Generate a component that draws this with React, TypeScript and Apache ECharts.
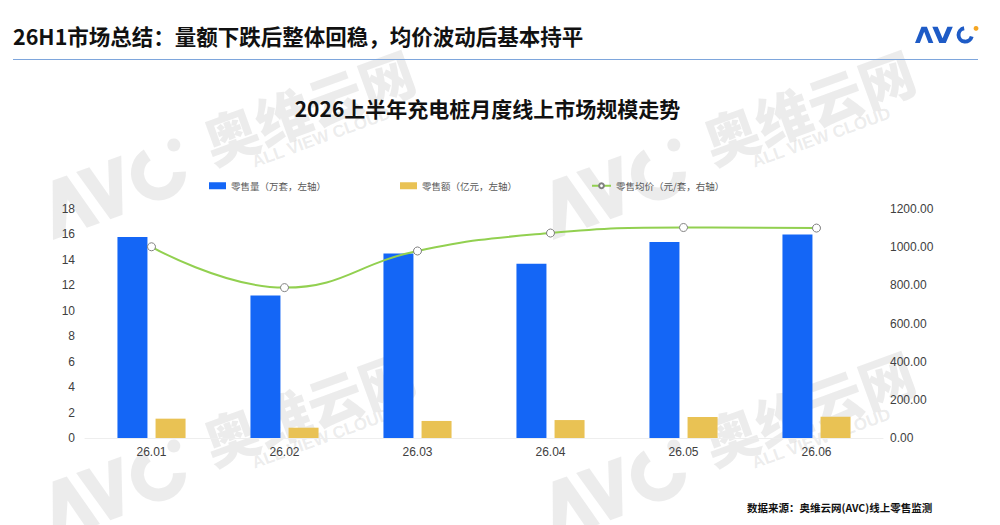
import React, { useEffect, useRef } from "react";
import * as echarts from "echarts";

const categories = ["26.01", "26.02", "26.03", "26.04", "26.05", "26.06"];
const volume = [15.8, 11.2, 14.5, 13.7, 15.4, 16.0];
const amount = [1.52, 0.81, 1.34, 1.41, 1.65, 1.67];
const avgPrice = [1002, 788, 980, 1074, 1103, 1100];

const seriesNames = ["零售量（万套，左轴）", "零售额（亿元，左轴）", "零售均价（元/套，右轴）"];
const headerText = "26H1市场总结：量额下跌后整体回稳，均价波动后基本持平";
const titleText = "2026上半年充电桩月度线上市场规模走势";
const sourceText = "数据来源：奥维云网(AVC)线上零售监测";

const leftAxis = { min: 0, max: 18, interval: 2 };
const rightAxis = { min: 0, max: 1200, interval: 200 };

const BLUE = "#1466F6";
const YELLOW = "#E9C254";
const GREEN = "#92D050";
const CJK = "'Noto Sans CJK SC', 'Noto Sans', sans-serif";
const LATIN = "'Liberation Sans', Arial, sans-serif";

function logoChildren(color: string, dotColor: string) {
  return [
    {
      type: "polygon",
      shape: { points: [[0, 0], [6, -15], [11, -15], [17, 0], [12.5, 0], [8.5, -10.5], [4.5, 0]] },
      style: { fill: color },
    },
    {
      type: "polygon",
      shape: { points: [[16, -15], [21, -15], [25.5, -4.5], [30, -15], [35, -15], [28.5, 0], [22.5, 0]] },
      style: { fill: color },
    },
    {
      type: "arc",
      shape: { cx: 46.5, cy: -7.5, r: 6.2, startAngle: 0.25, endAngle: 4.55, clockwise: true },
      style: { stroke: color, lineWidth: 3.6, fill: "none" },
    },
    {
      type: "circle",
      shape: { cx: 56.5, cy: -13.5, r: 2.2 },
      style: { fill: dotColor },
    },
  ];
}

function watermarkLogo(c: string) {
  return [
    {
      type: "polygon",
      shape: { points: [[0, 0], [20, -56], [35, -56], [50, 0], [36, 0], [27.5, -33], [13, 0]] },
      style: { fill: c },
    },
    {
      type: "polygon",
      shape: { points: [[45, -56], [59, -56], [68, -22], [79, -56], [93, -56], [74, 0], [61, 0]] },
      style: { fill: c },
    },
    {
      type: "arc",
      shape: { cx: 122, cy: -27, r: 21, startAngle: 0.3, endAngle: 4.5, clockwise: true },
      style: { stroke: c, lineWidth: 13, fill: "none" },
    },
    {
      type: "circle",
      shape: { cx: 146, cy: -48, r: 6.5 },
      style: { fill: c },
    },
  ];
}

function watermark(x: number, y: number) {
  const c = "rgba(175,175,175,0.24)";
  return {
    type: "group",
    x,
    y,
    rotation: (20 * Math.PI) / 180,
    silent: true,
    z: 100,
    children: [
      { type: "group", children: watermarkLogo(c) },
      {
        type: "text",
        x: 176,
        y: -12,
        style: {
          text: "奥维云网",
          fill: c,
          font: `900 55px ${CJK}`,
          verticalAlign: "bottom",
        },
      },
      {
        type: "text",
        x: 214,
        y: 4,
        style: {
          text: "ALL VIEW CLOUD",
          fill: c,
          font: `bold 17px ${LATIN}`,
          verticalAlign: "bottom",
        },
      },
    ],
  };
}

export default function App() {
  const ref = useRef<HTMLDivElement>(null);

  useEffect(() => {
    if (!ref.current) return;
    const chart = echarts.init(ref.current, null, { renderer: "svg" });

    const legendCommon = {
      top: 181,
      padding: 0,
      itemGap: 0,
      textStyle: { fontSize: 9.5, color: "#595959", fontFamily: CJK },
      selectedMode: false,
    };

    const option = {
      animation: false,
      backgroundColor: "#fff",
      legend: [
        { ...legendCommon, left: 209, itemWidth: 17, itemHeight: 7, data: [{ name: seriesNames[0], icon: "rect" }] },
        { ...legendCommon, left: 400, itemWidth: 17, itemHeight: 7, data: [{ name: seriesNames[1], icon: "rect" }] },
        { ...legendCommon, left: 591, itemWidth: 19, itemHeight: 6, data: [{ name: seriesNames[2] }] },
      ],
      grid: {
        left: 85,
        right: 117,
        top: 209,
        bottom: 87,
        containLabel: false,
        outerBoundsMode: "none",
      },
      xAxis: {
        type: "category",
        data: categories,
        axisLine: { show: true, lineStyle: { color: "#EEEEEE", width: 1 } },
        axisTick: { show: false },
        axisLabel: { fontSize: 12, color: "#404040", fontFamily: LATIN, margin: 8 },
        splitLine: { show: false },
      },
      yAxis: [
        {
          type: "value",
          min: leftAxis.min,
          max: leftAxis.max,
          interval: leftAxis.interval,
          axisLine: { show: false },
          axisTick: { show: false },
          splitLine: { show: false },
          axisLabel: { fontSize: 12, color: "#404040", fontFamily: LATIN, margin: 10 },
        },
        {
          type: "value",
          min: rightAxis.min,
          max: rightAxis.max,
          interval: rightAxis.interval,
          axisLine: { show: false },
          axisTick: { show: false },
          splitLine: { show: false },
          axisLabel: {
            fontSize: 12,
            color: "#404040",
            fontFamily: LATIN,
            margin: 7,
            formatter: (v: number) => v.toFixed(2),
          },
        },
      ],
      series: [
        {
          name: seriesNames[0],
          type: "bar",
          yAxisIndex: 0,
          data: volume,
          barWidth: 30,
          barGap: "27%",
          itemStyle: { color: BLUE },
        },
        {
          name: seriesNames[1],
          type: "bar",
          yAxisIndex: 0,
          data: amount,
          barWidth: 30,
          barGap: "27%",
          itemStyle: { color: YELLOW },
        },
        {
          name: seriesNames[2],
          type: "line",
          yAxisIndex: 1,
          data: avgPrice,
          smooth: 0.45,
          symbol: "circle",
          symbolSize: 8,
          lineStyle: { color: GREEN, width: 2 },
          itemStyle: { color: "#FFFFFF", borderColor: "#808080", borderWidth: 1 },
          z: 5,
        },
      ],
      graphic: [
        {
          type: "text",
          left: 13,
          top: 25,
          style: { text: headerText, fill: "#111", font: `bold 21.5px ${CJK}` },
          z: 10,
        },
        {
          type: "line",
          shape: { x1: 13, y1: 59.5, x2: 978, y2: 59.5 },
          style: { stroke: "#7EA6DC", lineWidth: 1 },
          z: 10,
        },
        {
          type: "group",
          x: 915,
          y: 43,
          scaleX: 1.08,
          scaleY: 1.08,
          z: 10,
          children: logoChildren("#1E5BC6", "#F5A623"),
        },
        {
          type: "text",
          x: 487.5,
          y: 108,
          style: {
            text: titleText,
            fill: "#111",
            font: `bold 21px ${CJK}`,
            align: "center",
            verticalAlign: "middle",
          },
          z: 10,
        },
        {
          type: "text",
          x: 747,
          y: 507,
          style: {
            text: sourceText,
            fill: "#111",
            font: `bold 10.5px ${CJK}`,
            verticalAlign: "middle",
          },
          z: 10,
        },
        watermark(553, 240),
        watermark(53, 240),
        watermark(553, 541),
        watermark(53, 541),
      ],
    };

    chart.setOption(option as any);
    return () => chart.dispose();
  }, []);

  return (
    <div
      ref={ref}
      style={{ position: "absolute", left: 0, top: 0, width: 1000, height: 525 }}
    />
  );
}
